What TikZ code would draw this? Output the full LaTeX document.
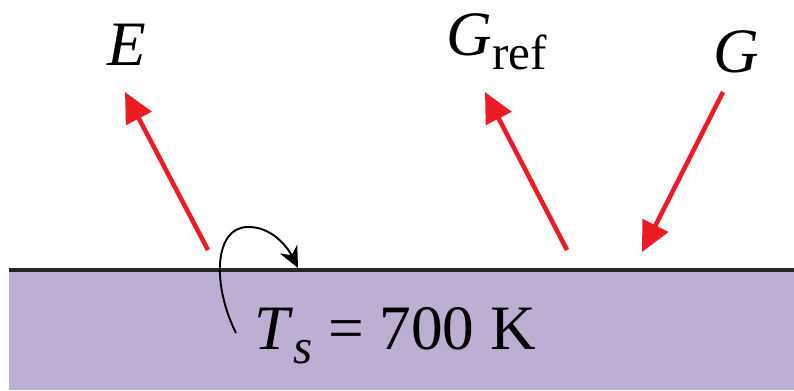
\documentclass[tikz,border=0pt]{standalone}
\usepackage{fontspec}
\setmainfont{Liberation Serif}
\usepackage{tikz}
\usetikzlibrary{arrows.meta,positioning}
\definecolor{slab}{RGB}{189,175,211}
\definecolor{ray}{RGB}{237,28,36}
\newcommand{\lowsub}[1]{\raisebox{-8.5pt}{\fontsize{28}{30}\selectfont #1}}

\begin{document}
\begin{tikzpicture}[x=0.02cm,y=-0.02cm,
  flux/.style={ray,line width=2.6pt,-{Triangle[length=17pt,width=16pt]}},
  lbl/.style={inner sep=0pt,font=\fontsize{36}{40}\selectfont},
  turn/.style={black,line width=1.1pt,-{Stealth[length=12pt,width=11pt]}}
]
  \useasboundingbox (0,0) rectangle (794,390);
  % surface
  \fill[slab] (9,270) rectangle (794,390);
  \draw[black!85,line width=2.4pt] (9,270) -- (794,270);
  % end points of the rays
  \coordinate (eS) at (208,250);  \coordinate (eT) at (125,92);
  \coordinate (rS) at (567,250);  \coordinate (rT) at (485,92);
  \coordinate (gS) at (723,92);   \coordinate (gT) at (642,252);
  \draw[flux] (eS) -- (eT);
  \draw[flux] (rS) -- (rT);
  \draw[flux] (gS) -- (gT);
  % labels
  \node[lbl,anchor=base west] (E) at (107,65) {\textit{E}};
  \node[lbl,anchor=base west] (Gref) at (446,55) {\textit{G}\lowsub{ref}};
  \node[lbl,anchor=base west] (G) at (713,72) {\textit{G}};
  \node[lbl,anchor=base west] (Ts) at (254,349) {\textit{T}\lowsub{\textit{s}} = 700 K};
  % surface temperature marker
  \coordinate (tA) at (236,333);
  \coordinate (tB) at (298,268);
  \draw[turn] (tA) .. controls (212,285) and (214,228) .. (247,227)
    .. controls (272,226) and (288,248) .. (tB);
\end{tikzpicture}
\end{document}
